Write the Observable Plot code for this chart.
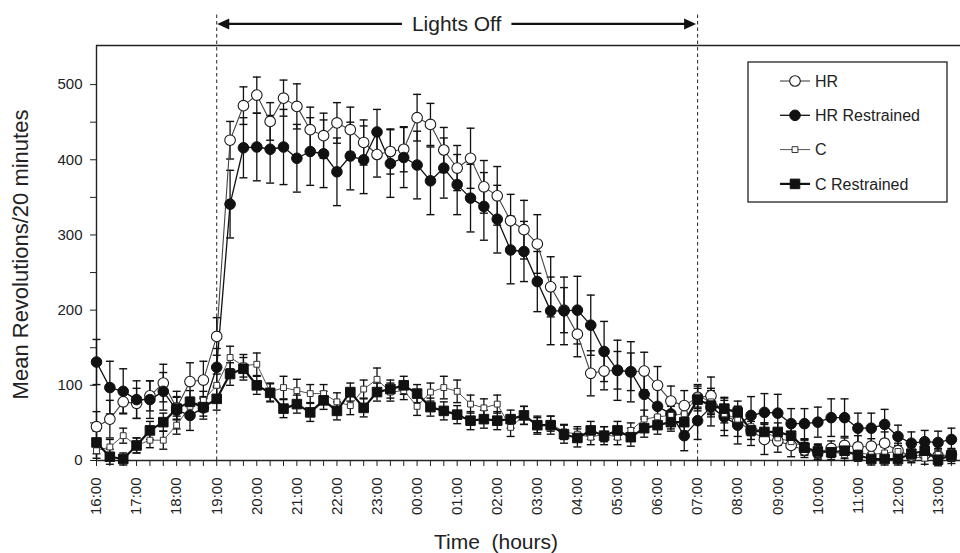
<!DOCTYPE html>
<html><head><meta charset="utf-8">
<script src="https://cdn.jsdelivr.net/npm/d3@7"></script>
<script src="https://cdn.jsdelivr.net/npm/@observablehq/plot@0.6"></script>
<style>
html,body{margin:0;padding:0;background:#fff;}
#chart{width:960px;height:553px;}
</style></head><body><div id="chart"></div>
<script>
// ---- data ----
const times = ["16:00","16:20","16:40","17:00","17:20","17:40","18:00","18:20","18:40","19:00","19:20","19:40","20:00","20:20","20:40","21:00","21:20","21:40","22:00","22:20","22:40","23:00","23:20","23:40","00:00","00:20","00:40","01:00","01:20","01:40","02:00","02:20","02:40","03:00","03:20","03:40","04:00","04:20","04:40","05:00","05:20","05:40","06:00","06:20","06:40","07:00","07:20","07:40","08:00","08:20","08:40","09:00","09:20","09:40","10:00","10:20","10:40","11:00","11:20","11:40","12:00","12:20","12:40","13:00","13:20"];
const hourTicks = ["16:00","17:00","18:00","19:00","20:00","21:00","22:00","23:00","00:00","01:00","02:00","03:00","04:00","05:00","06:00","07:00","08:00","09:00","10:00","11:00","12:00","13:00"];
const yTickLabels = [0,100,200,300,400,500];
const yMinorTicks = [0,50,100,150,200,250,300,350,400,450,500];
const seriesNames = ["HR","HR Restrained","C","C Restrained"];

const hrMean = [45,55,78,76,86,103,70,105,107,165, 426,472,486,451,482,471,440,432,449,440, 423,407,411,414,456,447,413,389,402,364, 352,319,307,288,231,200,168,116,119,120, 118,119,100,79,73,84,86,60,52,40, 28,26,20,14,11,16,20,18,19,23, 13,6,8,6,8];
const hrErr = [20,25,15,20,20,25,15,25,25,25, 25,25,24,25,24,30,30,30,27,30, 30,30,30,30,31,28,30,30,40,35, 39,35,39,39,40,30,30,30,25,25, 25,25,25,20,20,15,25,20,20,20, 20,15,15,10,10,10,10,15,10,15, 10,8,8,8,8];
const hrRMean = [131,97,92,81,81,92,67,60,70,124, 341,416,417,414,417,402,411,408,384,405, 400,437,395,403,393,372,389,367,349,338, 321,280,278,238,199,199,200,180,145,120, 118,88,72,62,33,53,71,58,47,60, 64,63,49,49,51,57,57,43,43,48, 32,23,25,24,28];
const hrRErr = [30,35,30,25,25,25,25,20,15,25, 45,40,45,45,50,45,45,45,45,45, 45,30,45,40,45,45,40,40,45,45, 45,45,40,40,45,45,45,40,40,40, 40,30,25,20,20,25,25,25,25,25, 25,25,20,20,20,25,25,20,20,20, 15,15,15,15,15];
const cMean = [13,18,33,20,27,27,47,72,80,100, 137,126,128,91,97,93,89,89,78,73, 95,108,91,93,72,91,97,92,75,70, 75,44,60,47,49,38,35,31,35,31, 40,55,58,60,62,86,78,62,55,45, 38,30,25,18,12,12,8,10,8,10, 12,5,3,8,4];
const cErr = [10,10,10,10,10,12,12,12,12,15, 15,15,15,12,15,15,12,12,12,12, 12,15,12,12,12,12,15,15,12,12, 12,12,12,10,10,10,10,10,10,10, 10,12,12,12,12,15,15,12,12,12, 12,10,10,10,8,8,8,8,8,8, 8,8,8,8,8];
const crMean = [24,5,2,20,40,51,69,78,71,82, 115,122,100,90,69,75,64,80,66,91, 70,91,95,100,89,71,66,61,53,55, 53,55,60,47,47,35,30,40,33,40, 31,43,47,51,51,81,73,69,64,40, 38,38,33,17,12,11,13,7,2,2, 2,9,13,1,7];
const crErr = [15,10,8,10,12,12,15,15,12,15, 15,15,12,12,12,12,12,12,12,12, 12,12,12,12,12,12,12,12,12,12, 12,12,12,12,12,12,12,12,12,12, 12,12,12,12,12,15,15,15,15,12, 12,12,12,10,10,10,10,8,8,8, 8,8,8,8,8];

const lightsOff = ["19:00","07:00"];
const lightsLabel = "Lights Off";
const xTitle = "Time  (hours)";
const yTitle = "Mean Revolutions/20 minutes";

// ---- build ----
const toH = s => { const [h, m] = s.split(":").map(Number); return ((h - 16 + 24) % 24) + m / 60; };
const means = [hrMean, hrRMean, cMean, crMean];
const errs = [hrErr, hrRErr, cErr, crErr];
const rows = seriesNames.flatMap((name, k) => means[k].map((v, i) => ({series: name, t: toH(times[i]), v, e: errs[k][i]})));

const styles = {
  "HR": {line: "#444", lw: 1.1, symbol: "circle", r: 5.3, fill: "white", stroke: "#1a1a1a", sw: 1.1},
  "HR Restrained": {line: "#111", lw: 1.3, symbol: "circle", r: 5.3, fill: "#111", stroke: "#111", sw: 1},
  "C": {line: "#555", lw: 1, symbol: "square", r: 3.3, fill: "white", stroke: "#333", sw: 1},
  "C Restrained": {line: "#111", lw: 2.2, symbol: "square", r: 5.4, fill: "#111", stroke: "#111", sw: 1}
};
const cap = {draw(ctx, size) { const w = Math.sqrt(size / Math.PI); ctx.moveTo(-w, 0); ctx.lineTo(w, 0); }};
const labelMap = new Map(hourTicks.map(s => [toH(s), s]));
const font = "'Liberation Sans', Arial, sans-serif";

const marks = [
  Plot.ruleX(lightsOff.map(toH), {y1: 0, y2: 595, stroke: "#222", strokeWidth: 1, strokeDasharray: "3.5,3"}),
  Plot.ruleY([552], {stroke: "#222", strokeWidth: 1.4}),
  Plot.ruleX([0], {stroke: "#222", strokeWidth: 1.4}),
  Plot.ruleY([0], {stroke: "#222", strokeWidth: 1.4}),
  Plot.axisY({ticks: yMinorTicks, tickSize: 6, tickPadding: 8, tickFormat: d => (yTickLabels.includes(d) ? String(d) : ""), label: null, fontSize: 15, stroke: "#222"}),
  Plot.axisX({ticks: times.map(toH), tickSize: 6, tickFormat: () => "", label: null, stroke: "#222"}),
  Plot.axisX({ticks: hourTicks.map(toH), tickSize: 0, tickPadding: 17, tickRotate: -90, tickFormat: d => labelMap.get(d), label: null, fontSize: 15}),
  Plot.ruleX(rows, {x: "t", y1: d => d.v - d.e, y2: d => d.v + d.e, stroke: "#111", strokeWidth: 1.3}),
  Plot.dot(rows, {x: "t", y: d => d.v + d.e, symbol: cap, r: 4, stroke: "#111", strokeWidth: 1.4, fill: "none"}),
  Plot.dot(rows, {x: "t", y: d => d.v - d.e, symbol: cap, r: 4, stroke: "#111", strokeWidth: 1.4, fill: "none"})
];
for (const name of seriesNames) {
  const s = styles[name];
  const data = rows.filter(d => d.series === name);
  marks.push(Plot.line(data, {x: "t", y: "v", stroke: s.line, strokeWidth: s.lw}));
}
for (const name of seriesNames) {
  const s = styles[name];
  const data = rows.filter(d => d.series === name);
  marks.push(Plot.dot(data, {x: "t", y: "v", symbol: s.symbol, r: s.r, fill: s.fill, stroke: s.stroke, strokeWidth: s.sw}));
}

const chart = Plot.plot({
  width: 960, height: 553,
  marginLeft: 96, marginRight: 0, marginTop: 45, marginBottom: 93,
  x: {domain: [0, 21.56]},
  y: {domain: [0, 552]},
  style: {fontFamily: font, fontSize: "15px", background: "white", color: "#222", overflow: "visible"},
  marks
});
document.getElementById("chart").appendChild(chart);

// ---- annotations (positions through the plot's scales) ----
const svg = d3.select(chart);
const xs = chart.scale("x"), ys = chart.scale("y");
const xa = xs.apply(toH(lightsOff[0])), xb = xs.apply(toH(lightsOff[1]));
const ya = ys.apply(580);
const g = svg.append("g");
const t = g.append("text").attr("x", (xa + xb) / 2).attr("y", ya).attr("dy", "0.35em")
  .attr("text-anchor", "middle").attr("font-family", font).attr("font-size", 21).attr("fill", "#222").text(lightsLabel);
const tw = t.node().getComputedTextLength();
const gap = 10, head = 13;
g.append("line").attr("x1", xa + head - 1).attr("x2", (xa + xb) / 2 - tw / 2 - gap).attr("y1", ya).attr("y2", ya).attr("stroke", "#111").attr("stroke-width", 2.2);
g.append("line").attr("x1", (xa + xb) / 2 + tw / 2 + gap).attr("x2", xb - head + 1).attr("y1", ya).attr("y2", ya).attr("stroke", "#111").attr("stroke-width", 2.2);
g.append("path").attr("d", `M${xa + 1},${ya}L${xa + head},${ya - 5.5}L${xa + head},${ya + 5.5}Z`).attr("fill", "#111");
g.append("path").attr("d", `M${xb - 1},${ya}L${xb - head},${ya - 5.5}L${xb - head},${ya + 5.5}Z`).attr("fill", "#111");

// axis titles
svg.append("text").attr("transform", `translate(20,${(45 + 460) / 2 + 2}) rotate(-90)`).attr("dy", "0.35em")
  .attr("text-anchor", "middle").attr("font-family", font).attr("font-size", 22).attr("fill", "#222").text(yTitle);
svg.append("text").attr("x", 496).attr("y", 549).style("white-space", "pre")
  .attr("text-anchor", "middle").attr("font-family", font).attr("font-size", 21).attr("fill", "#222").text(xTitle);

// legend
const lg = svg.append("g");
lg.append("rect").attr("x", 748).attr("y", 62).attr("width", 199).attr("height", 140)
  .attr("fill", "white").attr("stroke", "#222").attr("stroke-width", 1.3);
const symMap = {circle: d3.symbolCircle, square: d3.symbolSquare};
seriesNames.forEach((name, i) => {
  const s = styles[name];
  const yy = 81 + i * 34.3;
  lg.append("line").attr("x1", 780).attr("x2", 810).attr("y1", yy).attr("y2", yy).attr("stroke", s.line).attr("stroke-width", s.lw);
  lg.append("path").attr("transform", `translate(795,${yy})`).attr("d", d3.symbol(symMap[s.symbol], Math.PI * s.r * s.r)())
    .attr("fill", s.fill).attr("stroke", s.stroke).attr("stroke-width", s.sw);
  lg.append("text").attr("x", 815).attr("y", yy).attr("dy", "0.35em").attr("text-anchor", "start")
    .attr("font-family", font).attr("font-size", 16).attr("fill", "#222").text(name);
});
</script>
</body></html>
